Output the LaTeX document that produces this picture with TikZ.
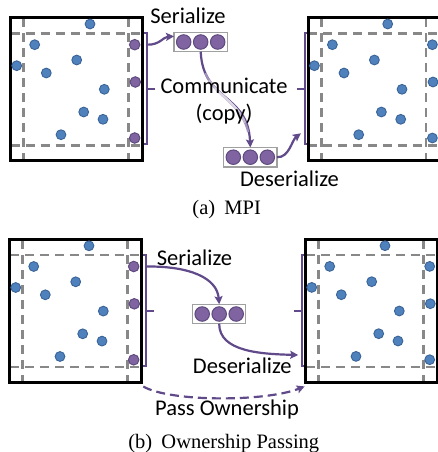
\documentclass[tikz,border=0pt]{standalone}
\usepackage{fontspec}
\setmainfont{Liberation Serif}
\newfontfamily\labelfont{Carlito}
\usetikzlibrary{arrows.meta,calc}

\definecolor{dotblue}{HTML}{4F81BD}
\definecolor{dotblueline}{HTML}{3A6496}
\definecolor{dotpurple}{HTML}{8064A2}
\definecolor{dotpurpleline}{HTML}{5E4A7E}
\definecolor{flow}{HTML}{604A8A}
\definecolor{gridgray}{HTML}{888888}
\definecolor{packgray}{HTML}{A0A0A0}

\tikzset{
  domainbox/.style={draw=black, line width=3pt, minimum width=131.6pt,
    minimum height=142.7pt, inner sep=0pt, outer sep=0pt, anchor=north west},
  griddash/.style={draw=gridgray, line width=2.6pt, dash pattern=on 9pt off 6pt},
  particle/.style={circle, fill=dotblue, draw=dotblueline, line width=0.9pt,
    minimum size=9.8pt, inner sep=0pt},
  edgeparticle/.style={circle, fill=dotpurple, draw=dotpurpleline, line width=1pt,
    minimum size=10.5pt, inner sep=0pt},
  packbox/.style={draw=packgray, fill=white, line width=1.2pt, minimum width=53.3pt,
    minimum height=19.5pt, inner sep=0pt, outer sep=0pt},
  packdot/.style={circle, fill=dotpurple, draw=dotpurpleline, line width=1pt,
    minimum size=14.5pt, inner sep=0pt},
  bracket/.style={draw=flow, line width=2pt},
  flowarrow/.style={draw=flow, line width=2.2pt,
    -{Stealth[length=8pt,width=8pt,inset=1.5pt]}},
  label/.style={font=\labelfont\fontsize{22.5}{27}\selectfont, inner sep=0pt, anchor=base},
  caption/.style={font=\fontsize{20.5}{24}\selectfont, inner sep=0pt, anchor=base},
}

% one domain: grid of halo lines, outer box, interior particles, three edge particles
\newcommand{\domain}[3]{%
  \begin{scope}[shift={#2}]
    \draw[griddash] (13,0) -- (13,142.7);
    \draw[griddash] (117.6,0) -- (117.6,142.7);
    \draw[griddash] (0,15.3) -- (131.6,15.3);
    \draw[griddash] (0,127.3) -- (131.6,127.3);
    \node[domainbox] (#1) at (0,0) {};
    \foreach \x/\y [count=\k] in {79.3/6, 24/26.7, 6/47.7, 66/42, 35.6/55,
        93.6/71.3, 73/94, 92.3/101.3, 50.3/116.7}
      \node[particle] (#1-p\k) at (\x,\y) {};
    \foreach \x/\y [count=\k] in {124/26.7, 124.6/64, 124/120}
      \node[#3] (#1-e\k) at (\x,\y) {};
  \end{scope}}

% brace on the sending side, with the start point of the outgoing arrow
\newcommand{\outbracket}[2]{%
  \begin{scope}[shift={#2}]
    \draw[bracket] (132,15.5) -- (136.3,15.5) -- (136.3,126) -- (132,126);
    \draw[bracket] (136.3,71) -- (144.3,71);
    \coordinate (#1) at (136.3,26.7);
  \end{scope}}

% brace on the receiving side, with the end point of the incoming arrow
\newcommand{\inbracket}[2]{%
  \begin{scope}[shift={#2}]
    \draw[bracket] (0,15.5) -- (-3.3,15.5) -- (-3.3,126) -- (0,126);
    \draw[bracket] (-3.3,71) -- (-11.7,71);
    \coordinate (#1) at (-7.5,115.3);
  \end{scope}}

% a serialized buffer of three particles
\newcommand{\pack}[2]{%
  \node[packbox] (#1) at #2 {};
  \foreach \dx [count=\k] in {-17,0,17}
    \node[packdot] (#1-\k) at ($(#1)+(\dx,0)$) {};}

\begin{document}
\begin{tikzpicture}[x=1pt, y=-1pt]
  \useasboundingbox (0,0) rectangle (438,452);

  % ---------------- (a) MPI ----------------
  \outbracket{La-out}{(10.7,18)}
  \inbracket{Ra-in}{(308.4,18)}
  \domain{La}{(10.7,18)}{edgeparticle}
  \domain{Ra}{(308.4,18)}{particle}

  \pack{serA}{(200.7,42)}
  \pack{deserA}{(250.3,157.2)}

  \draw[flowarrow] (La-out) .. controls (160,45) and (163,37) .. (serA.168);

  % communication path, lighter in the middle
  \draw[flowarrow] (serA.south) .. controls (203,102) and (248,93) .. (deserA.north);
  \draw[draw=flow!60!white, line width=2.2pt, dash pattern=on 0pt off 22pt on 74pt off 1000pt]
    (serA.south) .. controls (203,102) and (248,93) .. (deserA.north);
  \draw[draw=flow!38!white, line width=2.2pt, dash pattern=on 0pt off 30pt on 56pt off 1000pt]
    (serA.south) .. controls (203,102) and (248,93) .. (deserA.north);
  \draw[draw=flow!22!white, line width=2.2pt, dash pattern=on 0pt off 40pt on 34pt off 1000pt]
    (serA.south) .. controls (203,102) and (248,93) .. (deserA.north);

  \draw[flowarrow] (deserA.east) .. controls (289,158) and (292,140) .. (Ra-in);

  \node[label] (serAlbl) at (188,24) {Serialize};
  \node[label] (commlbl) at (224,93.3) {Communicate};
  \node[label] (copylbl) at (224,120) {(copy)};
  \node[label] (deserAlbl) at (289.5,186.7) {Deserialize};

  \node[caption] (capA) at (226.7,214) {(a)\hspace{0.45em}MPI};

  % ---------------- (b) Ownership Passing ----------------
  \outbracket{Lb-out}{(9.7,239.8)}
  \inbracket{Rb-in}{(305.7,239.7)}
  \domain{Lb}{(9.7,239.8)}{edgeparticle}
  \domain{Rb}{(305.7,239.7)}{particle}

  \pack{serB}{(219.2,314)}

  \draw[flowarrow] (Lb-out) .. controls (190,266) and (217,278) .. (serB.north);
  \draw[flowarrow] (serB.south) .. controls (219,352) and (262,354) .. (Rb-in);
  \draw[flowarrow, dash pattern=on 9pt off 5pt]
    ($(Lb.south east)+(2,4)$) .. controls (170,402) and (265,402) .. ($(Rb.south west)+(-1,4)$);

  \node[label] (serBlbl) at (194.5,265) {Serialize};
  \node[label] (deserBlbl) at (242.3,373.3) {Deserialize};
  \node[label] (passlbl) at (227,415.7) {Pass Ownership};

  \node[caption] (capB) at (223.8,448) {(b)\hspace{0.45em}Ownership Passing};
\end{tikzpicture}
\end{document}
